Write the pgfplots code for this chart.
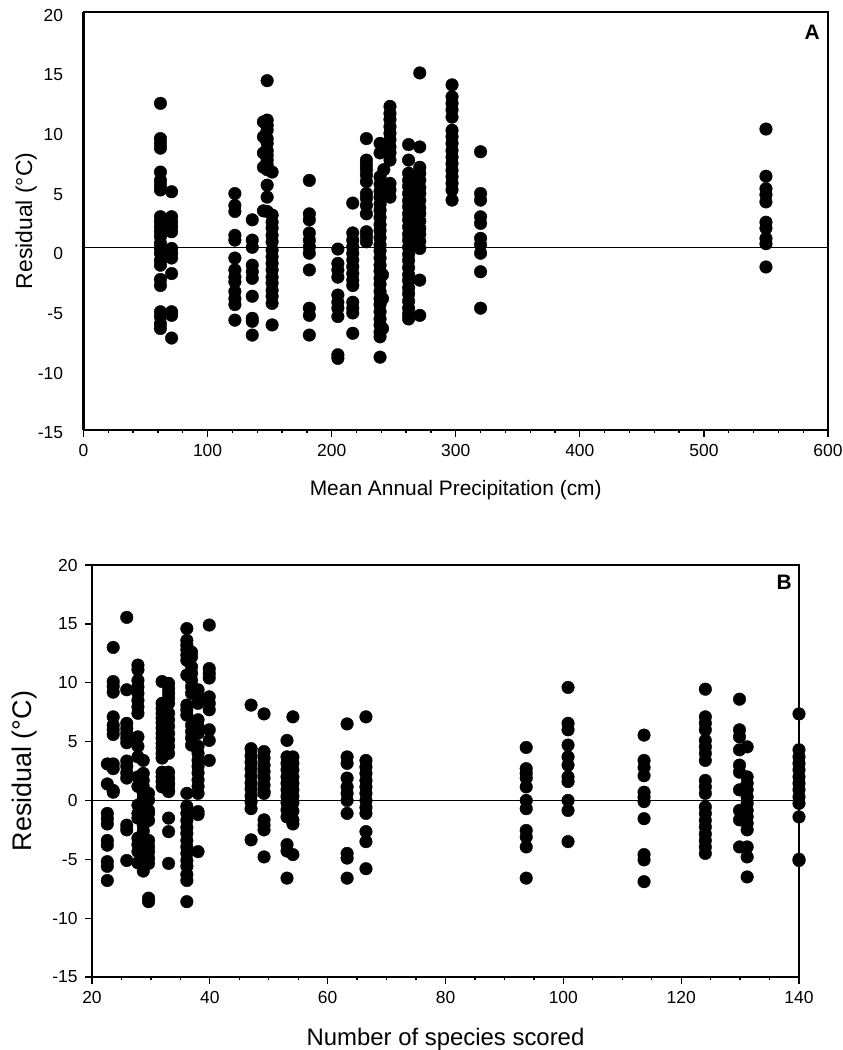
\documentclass[border=0pt]{standalone}
\usepackage{pgfplots}
\pgfplotsset{compat=1.18}
\usepackage{fontspec}
\setmainfont{Liberation Sans}

\pgfplotstableread{
x y
62 12.35
62 9.4
62 9.0
62 8.6
62 6.6
62 5.9
62 5.5
62 5.1
62 2.86
62 2.44
62 2.0
62 1.6
62 1.2
62 0.63
62 0.2
62 -0.2
62 -0.8
62 -1.2
62 -2.4
62 -2.9
62 -5.1
62 -5.5
62 -6.1
62 -6.5
71 4.95
71 2.86
71 2.4
71 2.0
71 1.6
71 0.2
71 -0.2
71 -0.6
71 -1.9
71 -5.1
71 -5.4
71 -7.3
122 4.8
122 3.8
122 3.3
122 1.3
122 0.9
122 -0.6
122 -1.6
122 -2.2
122 -2.6
122 -3.4
122 -4.0
122 -4.5
122 -5.8
136 2.6
136 0.9
136 0.3
136 -1.2
136 -1.75
136 -2.3
136 -3.8
136 -5.65
136 -5.9
136 -7.05
148 14.25
148 10.95
148 10.5
148 10.1
148 9.4
148 9.0
148 8.4
148 8.0
148 7.6
148 7.2
148 6.8
148 5.5
148 4.5
148 3.3
145 10.8
145 9.55
145 8.2
145 7.0
145 3.35
152 6.6
152 3.0
152 2.4
152 1.9
152 1.3
152 0.76
152 0.07
152 -0.5
152 -1.05
152 -1.6
152 -2.2
152 -2.7
152 -3.3
152 -3.8
152 -4.4
152 -6.2
182 5.9
182 3.1
182 2.6
182 1.5
182 0.9
182 0.34
182 -0.2
182 -1.6
182 -4.8
182 -5.4
182 -7.05
205 0.15
205 -1.05
205 -1.6
205 -2.2
205 -3.7
205 -4.3
205 -4.8
205 -5.5
205 -8.7
205 -9.0
217 4.0
217 1.5
217 0.9
217 0.34
217 -0.2
217 -0.77
217 -1.33
217 -1.9
217 -2.45
217 -2.9
217 -4.3
217 -4.8
217 -5.2
217 -6.9
228 9.4
228 7.6
228 7.2
228 6.8
228 6.35
228 5.8
228 4.8
228 4.4
228 3.8
228 3.1
228 1.6
228 1.2
228 0.76
239 9.0
239 8.2
242 6.8
239 6.2
239 5.6
239 5.0
239 4.5
239 3.9
239 3.4
239 2.8
239 2.2
239 1.7
239 1.1
239 0.5
239 0.0
239 -0.6
239 -1.2
239 -1.7
239 -2.3
239 -2.8
239 -3.4
239 -4.0
239 -4.5
239 -5.1
239 -5.7
239 -6.2
239 -6.8
239 -7.2
239 -8.9
241 -2.0
241 -4.0
241 -6.5
247 12.1
247 11.5
247 11.0
247 10.4
247 9.85
247 9.3
247 8.7
247 8.2
247 7.6
247 5.65
247 5.1
247 4.5
262 8.9
262 7.6
262 6.5
262 5.9
262 5.4
262 4.8
262 4.2
262 3.7
262 3.1
262 2.6
262 2.0
262 1.4
262 0.9
262 0.3
262 -0.3
262 -0.8
262 -1.4
262 -2.0
262 -2.5
262 -3.1
262 -3.6
262 -4.2
262 -4.8
262 -5.3
262 -5.7
271 14.9
271 8.7
271 7.0
271 6.5
271 5.9
271 5.3
271 4.8
271 4.2
271 3.6
271 3.1
271 2.5
271 1.9
271 1.4
271 0.8
271 0.2
271 -2.45
271 -5.4
297 13.9
297 12.9
297 12.35
297 11.8
297 11.2
297 10.1
297 9.55
297 9.0
297 8.4
297 7.85
297 7.3
297 6.75
297 6.2
297 5.65
297 5.1
297 4.25
320 8.3
320 4.8
320 4.25
320 2.85
320 2.3
320 1.05
320 0.5
320 -0.2
320 -1.75
320 -4.8
550 10.2
550 6.25
550 5.2
550 4.7
550 4.1
550 2.4
550 1.9
550 1.05
550 0.6
550 -1.35
}\precip

\pgfplotstableread{
x y
22.6 3.1
22.6 1.4
22.6 -1.1
22.6 -1.55
22.6 -2.0
22.6 -3.4
22.6 -3.8
22.6 -5.2
22.6 -5.6
22.6 -6.8
23.6 13.0
23.6 10.1
23.6 9.7
23.6 9.2
23.6 7.1
23.6 6.4
23.6 6.0
23.6 5.6
23.6 3.1
23.6 2.7
23.6 0.85
23.6 0.7
25.9 15.55
25.9 9.4
25.9 6.55
25.9 6.1
25.9 5.7
25.9 5.3
25.9 4.9
25.9 3.35
25.9 2.9
25.9 2.35
25.9 1.9
25.9 -2.1
25.9 -2.5
25.9 -5.1
27.8 11.5
27.8 11.1
27.8 10.2
27.8 9.65
27.8 9.1
27.8 8.5
27.8 7.95
27.8 7.4
27.8 5.4
27.8 4.6
27.8 3.7
27.8 2.0
27.8 1.2
27.8 -0.4
27.8 -1.1
27.8 -1.5
27.8 -3.2
27.8 -3.75
27.8 -4.35
27.8 -5.3
28.7 3.4
28.7 2.3
28.7 1.7
28.7 1.15
28.7 0.6
28.7 0.17
28.7 -0.4
28.7 -0.96
28.7 -1.5
28.7 -2.1
28.7 -2.6
28.7 -3.2
28.7 -3.75
28.7 -4.3
28.7 -4.9
28.7 -5.45
28.7 -6.0
29.6 0.6
29.6 0.03
29.6 -0.85
29.6 -1.1
29.6 -1.7
29.6 -3.4
29.6 -3.9
29.6 -4.35
29.6 -4.9
29.6 -5.35
29.6 -8.3
29.6 -8.6
31.9 10.1
31.9 8.25
31.9 7.8
31.9 7.4
31.9 7.0
31.9 6.6
31.9 6.15
31.9 5.7
31.9 5.3
31.9 4.85
31.9 4.45
31.9 4.0
31.9 3.6
31.9 2.4
31.9 2.0
31.9 1.6
31.9 1.15
33.0 9.95
33.0 9.5
33.0 9.1
33.0 8.7
33.0 8.25
33.0 7.4
33.0 6.85
33.0 6.3
33.0 5.7
33.0 5.15
33.0 4.6
33.0 4.0
33.0 2.4
33.0 1.9
33.0 1.45
33.0 0.85
33.0 1.3
33.0 0.75
33.0 -1.5
33.0 -2.65
33.0 -5.35
36.1 14.6
36.1 13.6
36.1 13.2
36.1 12.8
36.1 12.35
36.1 11.9
36.1 10.65
36.1 8.1
36.1 7.7
36.1 7.25
36.1 0.6
36.1 -0.5
36.1 -1.1
36.1 -1.7
36.1 -2.3
36.1 -2.8
36.1 -3.4
36.1 -3.95
36.1 -4.5
36.1 -5.1
36.1 -5.6
36.1 -6.3
36.1 -6.8
36.1 -8.6
36.9 12.6
36.9 12.2
36.9 11.35
36.9 10.8
36.9 10.2
36.9 9.65
36.9 9.1
36.9 6.4
36.9 5.85
36.9 5.3
36.9 4.7
38.0 9.4
38.0 8.8
38.0 8.25
38.0 6.85
38.0 6.3
38.0 5.7
38.0 4.6
38.0 4.0
38.0 3.4
38.0 2.9
38.0 2.35
38.0 1.75
38.0 1.2
38.0 0.6
38.0 -0.95
38.0 -1.2
38.0 -4.35
39.9 14.9
39.9 11.2
39.9 10.8
39.9 10.4
39.9 8.8
39.9 8.25
39.9 7.7
39.9 6.0
39.9 5.1
39.9 3.4
47.0 8.1
47.0 4.4
47.0 3.8
47.0 3.25
47.0 2.7
47.0 2.1
47.0 1.5
47.0 1.0
47.0 0.4
47.0 -0.1
47.0 -0.7
47.0 -3.35
49.2 7.35
49.2 4.15
49.2 3.6
49.2 3.0
49.2 2.45
49.2 1.9
49.2 1.3
49.2 0.75
49.2 0.6
49.2 -1.65
49.2 -2.1
49.2 -2.5
49.2 -4.8
53.1 5.1
53.1 3.7
53.1 3.15
53.1 2.6
53.1 2.0
53.1 1.45
53.1 0.9
53.1 0.34
53.1 -0.2
53.1 -0.8
53.1 -1.4
53.1 -3.75
53.1 -4.3
53.1 -6.6
54.1 7.1
54.1 3.7
54.1 3.15
54.1 2.6
54.1 2.0
54.1 1.45
54.1 0.9
54.1 0.34
54.1 -0.2
54.1 -0.9
54.1 -1.65
54.1 -2.0
54.1 -4.6
63.3 6.5
63.3 3.7
63.3 3.15
63.3 1.9
63.3 1.15
63.3 0.6
63.3 0.0
63.3 -1.1
63.3 -4.5
63.3 -4.9
63.3 -6.6
66.5 7.1
66.5 3.4
66.5 2.85
66.5 2.3
66.5 1.7
66.5 1.15
66.5 0.6
66.5 0.0
66.5 -0.6
66.5 -1.1
66.5 -2.65
66.5 -3.5
66.5 -5.8
93.7 4.5
93.7 2.7
93.7 2.3
93.7 1.9
93.7 1.15
93.7 0.0
93.7 -0.7
93.7 -2.55
93.7 -3.1
93.7 -3.95
93.7 -6.6
100.8 9.6
100.8 6.55
100.8 6.0
100.8 4.7
100.8 3.7
100.8 3.0
100.8 2.0
100.8 1.6
100.8 0.0
100.8 -0.85
100.8 -3.5
113.7 5.55
113.7 3.4
113.7 2.8
113.7 2.1
113.7 0.7
113.7 0.3
113.7 -0.1
113.7 -1.55
113.7 -4.6
113.7 -5.05
113.7 -6.9
124.1 9.45
124.1 7.1
124.1 6.55
124.1 6.0
124.1 5.1
124.1 4.55
124.1 4.0
124.1 3.4
124.1 1.7
124.1 1.15
124.1 0.6
124.1 -0.55
124.1 -1.1
124.1 -1.7
124.1 -2.25
124.1 -2.85
124.1 -3.4
124.1 -3.95
124.1 -4.5
129.9 8.6
129.9 6.0
129.9 5.4
129.9 4.3
129.9 3.0
129.9 2.4
129.9 0.9
129.9 -0.85
129.9 -1.65
129.9 -3.95
131.2 4.55
131.2 2.0
131.2 1.45
131.2 0.9
131.2 0.3
131.2 -0.25
131.2 -0.85
131.2 -1.4
131.2 -1.95
131.2 -2.5
131.2 -3.95
131.2 -4.8
131.2 -6.5
140 7.35
140 4.3
140 3.7
140 3.15
140 2.6
140 2.0
140 1.45
140 0.9
140 0.3
140 -0.25
140 -1.4
140 -5.0
140 -5.1
}\species

\begin{document}
\begin{tikzpicture}
\path[use as bounding box] (0bp,0bp) rectangle (843bp,-1050bp);
\pgfplotsset{
  resid/.style={
    scale only axis, clip=false,
    axis line style={line width=1.3bp},
    every tick/.style={black, line width=1.3bp},
    tick align=outside,
    major tick length=7bp, minor tick length=3bp,
    xtick pos=bottom, ytick pos=left,
    ticklabel style={font=\fontsize{17.5}{20}\selectfont},
    ymin=-15, ymax=20,
    ytick={-15,-10,-5,0,5,10,15,20},
    yticklabels={-15,-10,-5,0,5,10,15,20},
  },
  dots/.style={only marks, mark=*, mark size=6.3bp,
    mark options={fill=black, draw=black}},
}
% Panel A
\begin{axis}[resid,
  at={(83.5bp,-12bp)}, anchor=north west,
  width=744.5bp, height=418bp,
  xmin=0, xmax=600,
  xtick={0,100,...,600},
  xticklabels={0,100,200,300,400,500,600},
  minor x tick num=4,
  y tick style={draw=none},
  yticklabel style={xshift=-10bp, yshift=-3bp},
  xticklabel style={yshift=-4bp},
  xlabel={\fontsize{21}{24}\selectfont Mean Annual Precipitation (cm)},
  ylabel={\fontsize{23}{26}\selectfont Residual (\char"00B0 C)},
  xlabel style={yshift=-17bp},
  ylabel style={yshift=-6bp},
]
\addplot[black, line width=1.6bp] coordinates {(0,0.27) (600,0.27)};
\addplot[dots] table[x=x, y=y] {\precip};
\draw[line width=2.6bp] (rel axis cs:0,0) -- (rel axis cs:0,1);
\draw[line width=2.6bp] (rel axis cs:0,0) -- (rel axis cs:1,0);
\node[anchor=north east, font=\bfseries\fontsize{21}{24}\selectfont, inner sep=0pt]
  at ([xshift=-8bp, yshift=-13bp]rel axis cs:1,1) {A};
\end{axis}
% Panel B
\begin{axis}[resid,
  at={(92bp,-565bp)}, anchor=north west,
  width=707bp, height=412bp,
  xmin=20, xmax=140,
  xtick={20,40,...,140},
  xticklabels={20,40,60,80,100,120,140},
  minor x tick num=3,
  yticklabel style={xshift=-4bp},
  xticklabel style={yshift=-4bp},
  xlabel={\fontsize{24}{28}\selectfont Number of species scored},
  ylabel={\fontsize{27}{30}\selectfont Residual (\char"00B0 C)},
  xlabel style={yshift=-17bp},
  ylabel style={yshift=8bp},
]
\addplot[black, line width=1.4bp] coordinates {(20,0) (140,0)};
\addplot[dots] table[x=x, y=y] {\species};
\draw[line width=2.2bp] (rel axis cs:0,0) -- (rel axis cs:0,1);
\draw[line width=2.2bp] (rel axis cs:0,0) -- (rel axis cs:1,0);
\node[anchor=north east, font=\bfseries\fontsize{21}{24}\selectfont, inner sep=0pt]
  at ([xshift=-7bp, yshift=-10bp]rel axis cs:1,1) {B};
\end{axis}
\end{tikzpicture}
\end{document}
